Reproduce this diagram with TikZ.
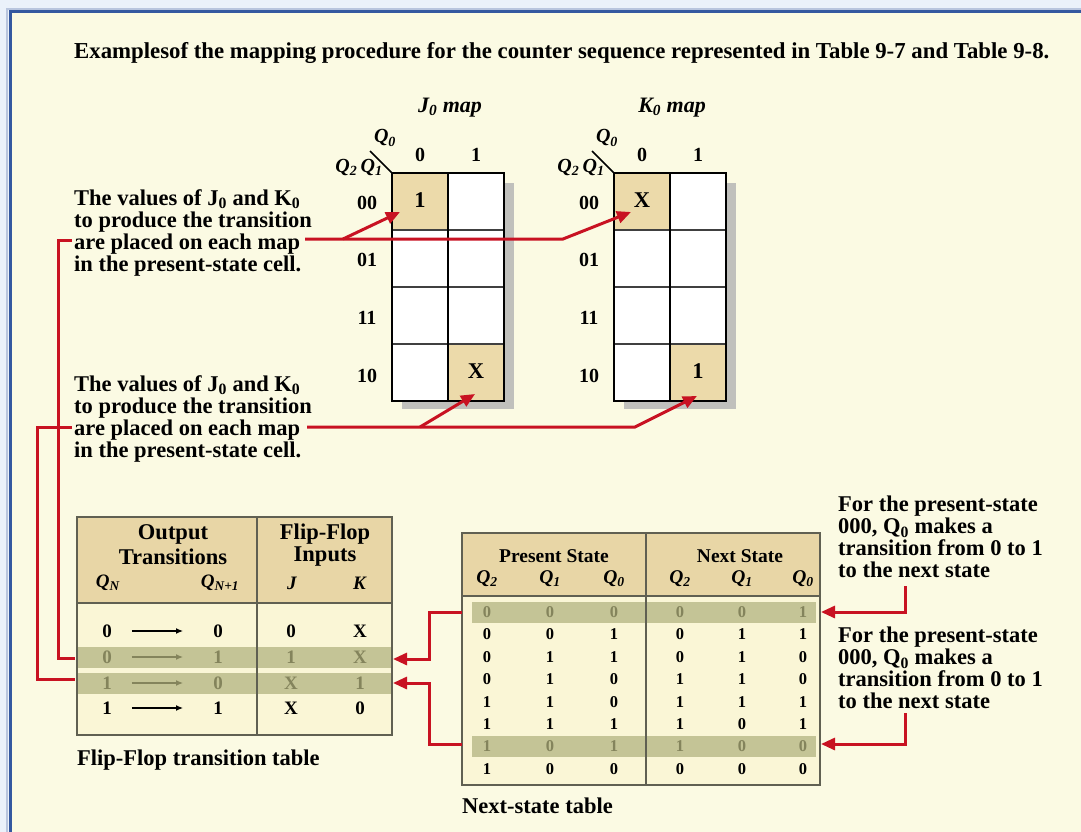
\documentclass[tikz,border=0pt]{standalone}
\usepackage{fontspec}
\setmainfont{Liberation Serif}
\usepackage{xcolor}
\usepackage{tikz}
\usetikzlibrary{arrows.meta, calc, positioning}

\definecolor{frameblue}{RGB}{52,88,160}
\definecolor{outerblue}{RGB}{234,241,250}
\definecolor{paper}{RGB}{251,250,227}
\definecolor{headtan}{RGB}{232,214,166}
\definecolor{celltan}{RGB}{236,218,170}
\definecolor{bodycream}{RGB}{250,246,214}
\definecolor{rowhl}{RGB}{196,196,150}
\definecolor{hltext}{RGB}{132,132,92}
\definecolor{tablerule}{RGB}{96,96,82}
\definecolor{linkred}{RGB}{200,18,34}
\definecolor{mapshadow}{RGB}{192,192,188}

\newcommand{\qv}[1]{\textit{Q}\textsubscript{\textit{#1}}}
\newcommand{\fsz}[1]{\fontsize{#1}{#1}\selectfont\bfseries}

\begin{document}
\begin{tikzpicture}[x=1pt, y=-1pt,
  every node/.style={inner sep=0pt, font=\fsz{22.5}},
  note/.style={anchor=west, align=left, font=\fontsize{22.5}{22}\selectfont\bfseries},
  mapnum/.style={font=\fsz{20}},
  ffnum/.style={font=\fsz{19}},
  nsnum/.style={font=\fsz{16.5}},
  nshead/.style={font=\fsz{19.5}},
  redline/.style={draw=linkred, line width=3pt},
  redarrow/.style={redline, -{Triangle[length=14pt, width=12pt]}}
]
% Frame
\useasboundingbox (0,0) rectangle (1081,832);
\begin{scope}
\clip (0,0) rectangle (1081,832);
\fill[outerblue] (0,0) rectangle (1081,832);
\draw[frameblue!35, line width=2pt] (7,9) rectangle (1100,850);
\filldraw[draw=frameblue, fill=paper, line width=3pt] (10,12) rectangle (1100,850);
\end{scope}

% Title
\node[anchor=west, font=\fsz{22.8}] (title) at (74,53) {Examplesof the mapping procedure for the counter sequence represented in Table 9-7 and Table 9-8.};

% Karnaugh maps
\foreach \mx/\nm/\va/\vb in {392/J/1/X, 614/K/X/1} {
  \fill[mapshadow] (\mx+10,183) rectangle (\mx+122,409);
  \fill[white] (\mx,173) rectangle (\mx+112,401);
  \fill[celltan] (\mx,173) rectangle (\mx+56,230);
  \fill[celltan] (\mx+56,344) rectangle (\mx+112,401);
  \foreach \ry in {230,287,344}
    \draw[black!75, line width=2pt] (\mx,\ry) -- (\mx+112,\ry);
  \draw[line width=2.6pt] (\mx,173) rectangle (\mx+112,401);
  \draw[line width=2.6pt] (\mx+56,173) -- (\mx+56,401);
  \draw[line width=1.5pt] (\mx,173) -- (\mx-22,151);
  \node[font=\fontsize{22}{22}\selectfont\bfseries\itshape] (\nm-title) at (\mx+58,108) {\nm\textsubscript{0} map};
  \node[mapnum] (\nm-col0) at (\mx+28,155) {0};
  \node[mapnum] (\nm-col1) at (\mx+84,155) {1};
  \node[mapnum] (\nm-qa) at (\mx-7,138) {\qv{0}};
  \node[mapnum] (\nm-qb) at (\mx-33,167) {\qv{2}\,\qv{1}};
  \foreach \rl/\ry in {00/203,01/260,11/318,10/376}
    \node[mapnum] at (\mx-25,\ry) {\rl};
  \node (\nm-00) at (\mx+28,200) {\va};
  \node (\nm-10) at (\mx+84,371) {\vb};
}

% Notes
\node[note] (valuesA) at (74,233) {The values of J\textsubscript{0} and K\textsubscript{0}\\to produce the transition\\are placed on each map\\in the present-state cell.};
\node[note] (valuesB) at (74,419) {The values of J\textsubscript{0} and K\textsubscript{0}\\to produce the transition\\are placed on each map\\in the present-state cell.};
\node[note] (presentA) at (838,537) {For the present-state\\000, Q\textsubscript{0} makes a\\transition from 0 to 1\\to the next state};
\node[note] (presentB) at (838,668) {For the present-state\\000, Q\textsubscript{0} makes a\\transition from 0 to 1\\to the next state};

% Flip-flop transition table
\fill[headtan] (77,517) rectangle (392,603);
\fill[bodycream] (77,603) rectangle (392,735);
\fill[rowhl] (77,647) rectangle (392,668);
\fill[rowhl] (77,673) rectangle (392,694);
\draw[tablerule, line width=1.4pt] (77,517) rectangle (392,735);
\draw[tablerule, line width=1.4pt] (77,603) -- (392,603) (257,517) -- (257,735);
\node (output) at (173,534) {Output};
\node (trans) at (173,557) {Transitions};
\node (flipflop) at (325,534) {Flip-Flop};
\node (inputs) at (325,557) {Inputs};
\node[ffnum] (qn) at (108,583) {\qv{N}};
\node[ffnum] (qnp) at (220,583) {\qv{N+1}};
\node[ffnum] (jin) at (292,583) {\textit{J}};
\node[ffnum] (kin) at (360,583) {\textit{K}};
\foreach \ry/\qa/\qb/\vj/\vk/\tc in {631/0/0/0/X/black, 657/0/1/1/X/hltext, 683/1/0/X/1/hltext, 708/1/1/X/0/black} {
  \node[ffnum, text=\tc] (qa\ry) at (107,\ry) {\qa};
  \node[ffnum, text=\tc] (qb\ry) at (218,\ry) {\qb};
  \node[ffnum, text=\tc] at (291,\ry) {\vj};
  \node[ffnum, text=\tc] at (360,\ry) {\vk};
  \draw[\tc, line width=1.3pt, -{Latex[length=7pt,width=6pt]}, shorten <=20pt, shorten >=30pt] (qa\ry) -- (qb\ry);
}
\node[anchor=west] (ffcap) at (77,760) {Flip-Flop transition table};

% Next-state table
\fill[headtan] (462,533) rectangle (820,596);
\fill[bodycream] (462,596) rectangle (820,785);
\fill[rowhl] (472,602) rectangle (816,623);
\fill[rowhl] (472,736) rectangle (816,757);
\draw[tablerule, line width=1.4pt] (462,533) rectangle (820,785);
\draw[tablerule, line width=1.4pt] (462,596) -- (820,596) (646,533) -- (646,785);
\node[nshead] (present) at (554,556) {Present State};
\node[nshead] (next) at (740,556) {Next State};
\foreach \qx/\qi in {487/2, 550/1, 614/0, 680/2, 742/1, 803/0}
  \node[nshead] at (\qx,579) {\qv{\qi}};
\foreach \i/\pa/\pb/\pc/\na/\nb/\nc/\tc in {0/0/0/0/0/0/1/hltext, 1/0/0/1/0/1/1/black, 2/0/1/1/0/1/0/black, 3/0/1/0/1/1/0/black, 4/1/1/0/1/1/1/black, 5/1/1/1/1/0/1/black, 6/1/0/1/1/0/0/hltext, 7/1/0/0/0/0/0/black}
  \foreach \qx/\v in {487/\pa, 550/\pb, 614/\pc, 680/\na, 742/\nb, 803/\nc}
    \node[nsnum, text=\tc] at (\qx,612+22.4*\i) {\v};
\node[anchor=west] (nscap) at (462,806) {Next-state table};

% Links from the notes to the maps
\coordinate (mapA) at (305,239);
\coordinate (forkA) at (343,239);
\coordinate (bendA) at (563,239);
\coordinate (tipJ1) at (400,212);
\coordinate (tipKX) at (631,212);
\draw[redarrow] (mapA) -- (bendA) -- (tipKX);
\draw[redarrow] (forkA) -- (tipJ1);
\coordinate (mapB) at (307,427);
\coordinate (forkB) at (420,427);
\coordinate (bendB) at (635,427);
\coordinate (tipJX) at (475,394);
\coordinate (tipK1) at (697,396);
\draw[redarrow] (mapB) -- (bendB) -- (tipK1);
\draw[redarrow] (forkB) -- (tipJX);

% Links from the notes to the flip-flop table
\coordinate (startA) at (72,240);
\coordinate (jogA) at (58,658);
\coordinate (endA) at (75,658);
\draw[redline] (startA) -| (jogA) -- (endA);
\coordinate (startB) at (72,427);
\coordinate (jogB) at (37,679);
\coordinate (endB) at (75,679);
\draw[redline] (startB) -| (jogB) -- (endB);

% Links between the tables
\coordinate (nsA) at (462,612);
\coordinate (jogC) at (429,659);
\coordinate (ffA) at (393,659);
\draw[redarrow] (nsA) -| (jogC) -- (ffA);
\coordinate (nsB) at (462,744);
\coordinate (jogD) at (429,683);
\coordinate (ffB) at (393,683);
\draw[redarrow] (nsB) -| (jogD) -- (ffB);

% Links from the right notes
\coordinate (topC) at (905,586);
\coordinate (rowC) at (821,612);
\draw[redarrow] (topC) |- (rowC);
\coordinate (topD) at (905,713);
\coordinate (rowD) at (821,744);
\draw[redarrow] (topD) |- (rowD);
\end{tikzpicture}
\end{document}
